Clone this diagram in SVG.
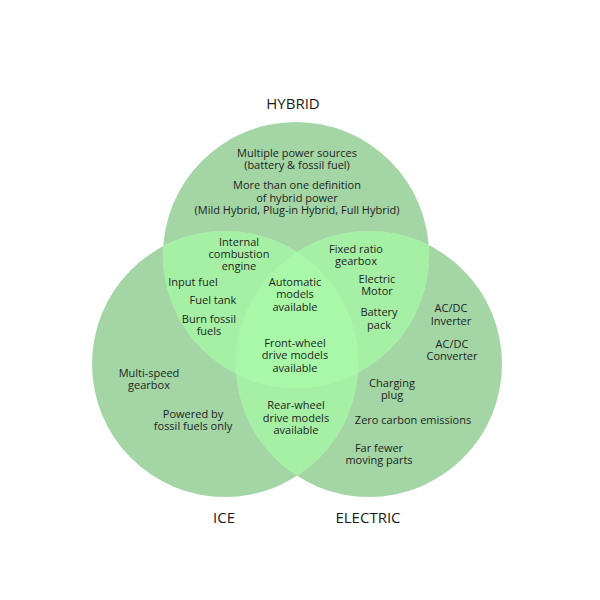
<svg xmlns="http://www.w3.org/2000/svg" width="600" height="600" viewBox="0 0 600 600">
<style>
.t{font-family:"Open Sans","Liberation Sans",sans-serif;font-size:11px;fill:#1e1e1e;text-anchor:middle}
.h{font-family:"Open Sans","Liberation Sans",sans-serif;font-size:15px;fill:#1a1a1a;text-anchor:middle}
.base{fill:#a3d5a5}
.two{fill:#a5f0a5}
.three{fill:#a8f8a8}
.edge{fill:none;stroke:#b4f2b4;stroke-width:0.8;stroke-opacity:0.6}
</style>
<defs>
<clipPath id="cH"><circle cx="296" cy="255" r="133"/></clipPath>
<clipPath id="cI"><circle cx="225" cy="364" r="133"/></clipPath>
<clipPath id="cE"><circle cx="369" cy="364" r="133"/></clipPath>
</defs>
<rect width="600" height="600" fill="#fff"/>
<g id="circles">
<circle class="base" cx="296" cy="255" r="133"/>
<circle class="base" cx="225" cy="364" r="133"/>
<circle class="base" cx="369" cy="364" r="133"/>
<g clip-path="url(#cH)"><circle class="two" cx="225" cy="364" r="133"/><circle class="two" cx="369" cy="364" r="133"/></g>
<g clip-path="url(#cI)"><circle class="two" cx="369" cy="364" r="133"/></g>
<g clip-path="url(#cH)"><g clip-path="url(#cI)"><circle class="three" cx="369" cy="364" r="133"/></g></g>
<g clip-path="url(#cH)"><circle class="edge" cx="225" cy="364" r="133"/><circle class="edge" cx="369" cy="364" r="133"/></g>
<g clip-path="url(#cI)"><circle class="edge" cx="296" cy="255" r="133"/><circle class="edge" cx="369" cy="364" r="133"/></g>
<g clip-path="url(#cE)"><circle class="edge" cx="296" cy="255" r="133"/><circle class="edge" cx="225" cy="364" r="133"/></g>
</g>
<g id="labels">
<text class="h" x="293" y="109">HYBRID</text>
<text class="h" x="224" y="523">ICE</text>
<text class="h" x="368" y="523">ELECTRIC</text>
</g>
<g id="hybrid-only">
<text class="t" x="297" y="157">Multiple power sources</text>
<text class="t" x="297" y="169">(battery &amp; fossil fuel)</text>
<text class="t" x="297" y="189">More than one definition</text>
<text class="t" x="297" y="201.5">of hybrid power</text>
<text class="t" x="297" y="214">(Mild Hybrid, Plug-in Hybrid, Full Hybrid)</text>
</g>
<g id="hybrid-ice">
<text class="t" x="239" y="245.5">Internal</text>
<text class="t" x="239" y="258">combustion</text>
<text class="t" x="239" y="270">engine</text>
<text class="t" x="193" y="286">Input fuel</text>
<text class="t" x="213" y="304">Fuel tank</text>
<text class="t" x="209" y="322.5">Burn fossil</text>
<text class="t" x="209" y="335">fuels</text>
</g>
<g id="hybrid-electric">
<text class="t" x="356" y="252.5">Fixed ratio</text>
<text class="t" x="356" y="265">gearbox</text>
<text class="t" x="377" y="282.5">Electric</text>
<text class="t" x="377" y="295">Motor</text>
<text class="t" x="379" y="316">Battery</text>
<text class="t" x="379" y="328.5">pack</text>
</g>
<g id="all-three">
<text class="t" x="295" y="286">Automatic</text>
<text class="t" x="295" y="298">models</text>
<text class="t" x="295" y="310.5">available</text>
<text class="t" x="295" y="346.5">Front-wheel</text>
<text class="t" x="295" y="359">drive models</text>
<text class="t" x="295" y="371.5">available</text>
</g>
<g id="ice-electric">
<text class="t" x="296" y="409">Rear-wheel</text>
<text class="t" x="296" y="421.5">drive models</text>
<text class="t" x="296" y="434">available</text>
</g>
<g id="ice-only">
<text class="t" x="149" y="376.5">Multi-speed</text>
<text class="t" x="149" y="389">gearbox</text>
<text class="t" x="193" y="417.5">Powered by</text>
<text class="t" x="193" y="430">fossil fuels only</text>
</g>
<g id="electric-only">
<text class="t" x="451" y="312">AC/DC</text>
<text class="t" x="451" y="324.5">Inverter</text>
<text class="t" x="452" y="348">AC/DC</text>
<text class="t" x="452" y="360">Converter</text>
<text class="t" x="392" y="386.5">Charging</text>
<text class="t" x="392" y="399">plug</text>
<text class="t" x="413" y="423.5">Zero carbon emissions</text>
<text class="t" x="379" y="451.5">Far fewer</text>
<text class="t" x="379" y="464">moving parts</text>
</g>
<g id="connectors"></g>
</svg>
